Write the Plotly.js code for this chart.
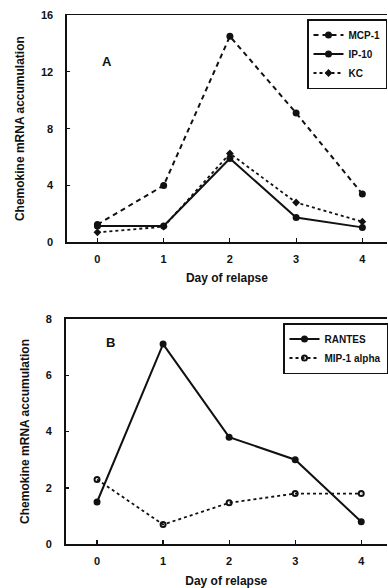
<!DOCTYPE html>
<html>
<head>
<meta charset="utf-8">
<script src="https://cdn.plot.ly/plotly-3.0.1.min.js"></script>
<style>html,body{margin:0;padding:0;background:#fff;}#chart{width:388px;height:588px;}</style>
</head>
<body>
<div id="chart"></div>
<script>
const days = [0, 1, 2, 3, 4];
const mcp1 = [1.25, 4.0, 14.5, 9.1, 3.4];
const ip10 = [1.15, 1.15, 5.9, 1.75, 1.05];
const kc = [0.7, 1.1, 6.25, 2.8, 1.45];
const rantes = [1.5, 7.1, 3.8, 3.0, 0.8];
const mip1a = [2.3, 0.7, 1.47, 1.8, 1.8];
const yTicksA = [0, 4, 8, 12, 16];
const yTicksB = [0, 2, 4, 6, 8];
const xTitle = 'Day of relapse';
const yTitle = 'Chemokine mRNA accumulation';

const ink = '#111';
const FONT = 'Liberation Sans, Arial, sans-serif';

const traces = [
  {x: days, y: mcp1, name: 'MCP-1', mode: 'lines+markers', xaxis: 'x', yaxis: 'y', legend: 'legend',
   line: {color: ink, width: 2, dash: '5px,4px'}, marker: {color: ink, size: 7, symbol: 'circle'}},
  {x: days, y: ip10, name: 'IP-10', mode: 'lines+markers', xaxis: 'x', yaxis: 'y', legend: 'legend',
   line: {color: ink, width: 2}, marker: {color: ink, size: 7, symbol: 'circle'}},
  {x: days, y: kc, name: 'KC', mode: 'lines+markers', xaxis: 'x', yaxis: 'y', legend: 'legend',
   line: {color: ink, width: 1.8, dash: 'dot'}, marker: {color: ink, size: 6, symbol: 'diamond'}},
  {x: days, y: rantes, name: 'RANTES', mode: 'lines+markers', xaxis: 'x2', yaxis: 'y2', legend: 'legend2',
   line: {color: ink, width: 2}, marker: {color: ink, size: 7, symbol: 'circle'}},
  {x: days, y: mip1a, name: 'MIP-1 alpha', mode: 'lines+markers', xaxis: 'x2', yaxis: 'y2', legend: 'legend2',
   line: {color: ink, width: 1.8, dash: 'dot'}, marker: {color: ink, size: 5, symbol: 'circle-open', line: {color: ink, width: 2}}}
];

const tickFont = {family: FONT, size: 11, color: ink, weight: 'bold'};
const titleFont = {family: FONT, size: 12, color: ink, weight: 'bold'};

function xax(domainLeft, range, anchor, standoff) {
  return {
    domain: [domainLeft, 1], range: range, anchor: anchor,
    tickvals: days, ticktext: days.map(String),
    ticks: 'inside', ticklen: 4, tickwidth: 1.2, tickcolor: ink,
    showline: true, linecolor: ink, linewidth: 1.5, mirror: true,
    showgrid: false, zeroline: false, automargin: false,
    tickfont: tickFont, ticklabelstandoff: 6,
    title: {text: xTitle, font: titleFont, standoff: standoff}
  };
}
function yax(domain, range, ticks, anchor) {
  return {
    domain: domain, range: range, anchor: anchor,
    tickvals: ticks, ticktext: ticks.map(String),
    ticks: 'inside', ticklen: 3, tickwidth: 1.2, tickcolor: ink,
    showline: true, linecolor: ink, linewidth: 1.5, mirror: false,
    showgrid: false, zeroline: false, automargin: false,
    tickfont: tickFont, ticklabelstandoff: 10,
    title: {text: yTitle, font: titleFont, standoff: 13}
  };
}

const legendFont = {family: FONT, size: 10, color: ink, weight: 'bold'};

const layout = {
  width: 388, height: 588,
  margin: {l: 0, r: 0, t: 0, b: 0},
  paper_bgcolor: '#fff', plot_bgcolor: '#fff',
  showlegend: true,
  xaxis: xax(67/388, [-0.462, 4.372], 'y', 9),
  yaxis: yax([1 - 242.3/588, 1 - 15/588], [0, 16], yTicksA, 'x'),
  xaxis2: xax(65.7/388, [-0.477, 4.39], 'y2', 12),
  yaxis2: yax([1 - 544.3/588, 1 - 318.7/588], [0, 8], yTicksB, 'x2'),
  legend: {x: 307/388, y: 1 - 19/588, xanchor: 'left', yanchor: 'top',
    bgcolor: '#fff', bordercolor: ink, borderwidth: 1.5,
    font: legendFont, itemwidth: 30, tracegroupgap: 0},
  legend2: {x: 284/388, y: 1 - 323/588, xanchor: 'left', yanchor: 'top',
    bgcolor: '#fff', bordercolor: ink, borderwidth: 1.5,
    font: legendFont, itemwidth: 30, tracegroupgap: 0},
  annotations: [
    {text: 'A', xref: 'paper', yref: 'paper', x: 100/388, y: 1 - 52/588, showarrow: false,
     font: {family: FONT, size: 13, color: ink, weight: 'bold'}},
    {text: 'B', xref: 'paper', yref: 'paper', x: 104/388, y: 1 - 342/588, showarrow: false,
     font: {family: FONT, size: 13, color: ink, weight: 'bold'}}
  ]
};

Plotly.newPlot('chart', traces, layout, {displayModeBar: false, staticPlot: true});
</script>
</body>
</html>
